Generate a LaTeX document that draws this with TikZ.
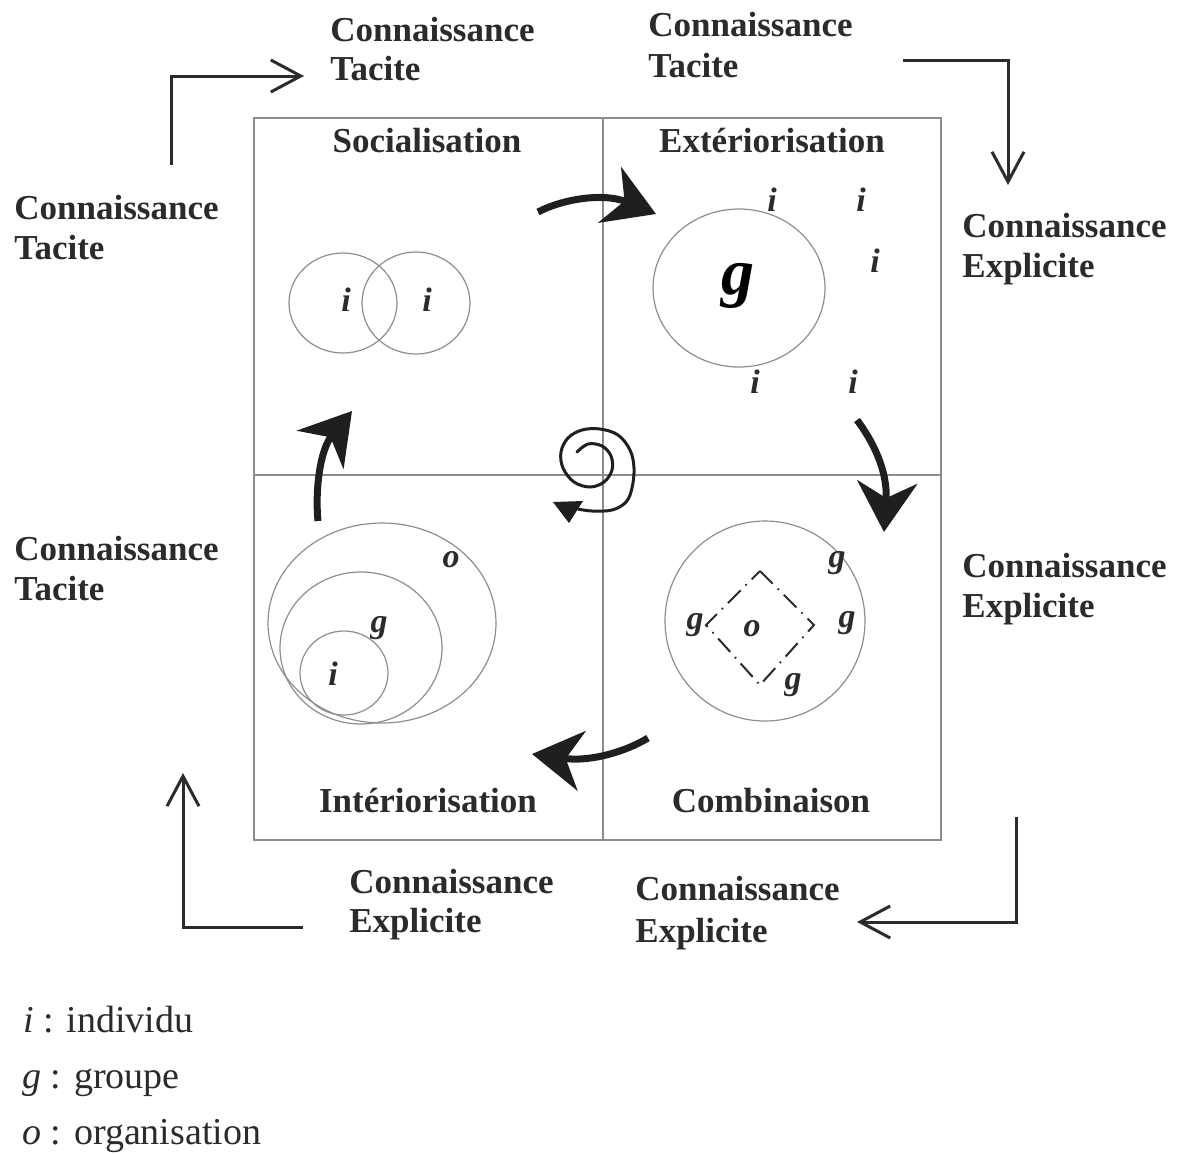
\documentclass[tikz,border=0pt]{standalone}
\usepackage{fontspec}
\setmainfont{Liberation Serif}
\usetikzlibrary{arrows.meta}
\definecolor{ink}{HTML}{2B2B2B}
\definecolor{frame}{HTML}{8C8C8C}
\definecolor{circ}{HTML}{8E8E8E}
\begin{document}
\begin{tikzpicture}[x=0.5pt,y=-0.5pt,
  lab/.style={font=\fontsize{17.5}{19}\selectfont\bfseries, text=ink, inner sep=0pt, anchor=base west},
  ttl/.style={font=\fontsize{17.5}{19}\selectfont\bfseries, text=ink, inner sep=0pt, anchor=base},
  sym/.style={font=\fontsize{17}{19}\selectfont\bfseries\itshape, text=ink, inner sep=0pt},
  bigsym/.style={font=\fontsize{33}{35}\selectfont\bfseries\itshape, text=black, inner sep=0pt},
  leg/.style={font=\fontsize{19}{21}\selectfont, text=ink, inner sep=0pt, anchor=base west},
  flow/.style={draw=ink, line width=1.5pt, -{Straight Barb[length=15pt,width=16pt,line width=1.5pt]}},
  turn/.style={draw=black!88, line width=3.5pt, -{Stealth[length=25pt,width=30pt,inset=8pt]}},
  ring/.style={draw=circ, line width=0.6pt},
  frameline/.style={draw=frame, line width=1pt},
]
\useasboundingbox[fill=white] (0,0) rectangle (1179,1153);

% frame
\draw[frameline] (254,118) rectangle (941,840);
\draw[frameline] (603,118) -- (603,840);
\draw[frameline] (254,475) -- (941,475);

% titles
\node[ttl] (soc) at (427,152) {Socialisation};
\node[ttl] (ext) at (772,152) {Extériorisation};
\node[ttl] (int) at (428,812) {Intériorisation};
\node[ttl] (com) at (771,812) {Combinaison};

% outer labels
\node[lab] (tlA) at (330,41) {Connaissance};
\node[lab] (tlB) at (330,80) {Tacite};
\node[lab] (trA) at (648,36) {Connaissance};
\node[lab] (trB) at (648,77) {Tacite};
\node[lab] (luA) at (14,219) {Connaissance};
\node[lab] (luB) at (14,259) {Tacite};
\node[lab] (ruA) at (962,237) {Connaissance};
\node[lab] (ruB) at (962,277) {Explicite};
\node[lab] (llA) at (14,560) {Connaissance};
\node[lab] (llB) at (14,600) {Tacite};
\node[lab] (rlA) at (962,577) {Connaissance};
\node[lab] (rlB) at (962,617) {Explicite};
\node[lab] (blA) at (349,893) {Connaissance};
\node[lab] (blB) at (349,932) {Explicite};
\node[lab] (brA) at (635,900) {Connaissance};
\node[lab] (brB) at (635,942) {Explicite};

% outer flow arrows
\coordinate (f1s) at (171,165); \coordinate (f1e) at (304,76);
\draw[flow] (f1s) |- (f1e);
\coordinate (f2s) at (903,60); \coordinate (f2e) at (1008,185);
\draw[flow] (f2s) -| (f2e);
\coordinate (f3s) at (1016,817); \coordinate (f3e) at (857,922);
\draw[flow] (f3s) |- (f3e);
\coordinate (f4s) at (303,927); \coordinate (f4e) at (183,773);
\draw[flow] (f4s) -| (f4e);

% Socialisation
\draw[ring] (343,303) ellipse [x radius=54, y radius=50];
\draw[ring] (416,303) ellipse [x radius=54, y radius=51];
\node[sym] (s1) at (346,300) {i};
\node[sym] (s2) at (427,300) {i};

% Exteriorisation
\draw[ring] (739,288) ellipse [x radius=86, y radius=79];
\node[bigsym] (eg) at (738,286) {g};
\node[sym] (e1) at (772,200) {i};
\node[sym] (e2) at (861,200) {i};
\node[sym] (e3) at (875,261) {i};
\node[sym] (e4) at (755,382) {i};
\node[sym] (e5) at (853,382) {i};

% Combinaison
\draw[ring] (765,621) circle [radius=100];
\coordinate (dT) at (760,571);
\coordinate (dL) at (706,625);
\coordinate (dB) at (760,685);
\coordinate (dR) at (814,625);
\draw[draw=ink, line width=1pt, dash pattern=on 9pt off 3.5pt on 0.8pt off 3.5pt]
  (dT) -- (dR) -- (dB) -- (dL) -- cycle;
\node[sym] (co) at (752,629) {o};
\node[sym] (c1) at (837,563) {g};
\node[sym] (c2) at (695,625) {g};
\node[sym] (c3) at (847,623) {g};
\node[sym] (c4) at (793,685) {g};

% Interiorisation
\draw[ring] (382,623) ellipse [x radius=114, y radius=100];
\draw[ring] (361,648) ellipse [x radius=81, y radius=76];
\draw[ring] (344,673) ellipse [x radius=44, y radius=42];
\node[sym] (io) at (451,560) {o};
\node[sym] (ig) at (379,628) {g};
\node[sym] (ii) at (333,674) {i};

% thick curved arrows
\coordinate (t1s) at (538,212); \coordinate (t1e) at (656,214);
\draw[turn] (t1s) .. controls (565,198) and (605,193) .. (t1e);
\coordinate (t2s) at (857,420); \coordinate (t2e) at (884,532);
\draw[turn] (t2s) .. controls (872,440) and (888,470) .. (t2e);
\coordinate (t3s) at (648,738); \coordinate (t3e) at (532,754);
\draw[turn] (t3s) .. controls (625,752) and (590,762) .. (t3e);
\coordinate (t4s) at (318,521); \coordinate (t4e) at (352,411);
\draw[turn] (t4s) .. controls (315,490) and (320,450) .. (t4e);

% spiral
\draw[black!88, line width=1.5pt, line cap=round] plot[smooth, tension=0.6] coordinates {
  (577,452) (588,444) (602,446) (611,456) (612,470) (604,482) (590,487)
  (574,482) (563,468) (561,452) (568,438) (582,430) (600,429) (618,435)
  (630,450) (634,468) (632,488) (626,502) (612,510) (592,511) (578,509)};
\fill[black!88] (553,502) -- (583,501) -- (569,523) -- cycle;

% legend
\node[leg] (lg1) at (23,1032) {\textit{i} : individu};
\node[leg] (lg2) at (22,1088) {\textit{g} : groupe};
\node[leg] (lg3) at (22,1144) {\textit{o} : organisation};
\end{tikzpicture}
\end{document}
